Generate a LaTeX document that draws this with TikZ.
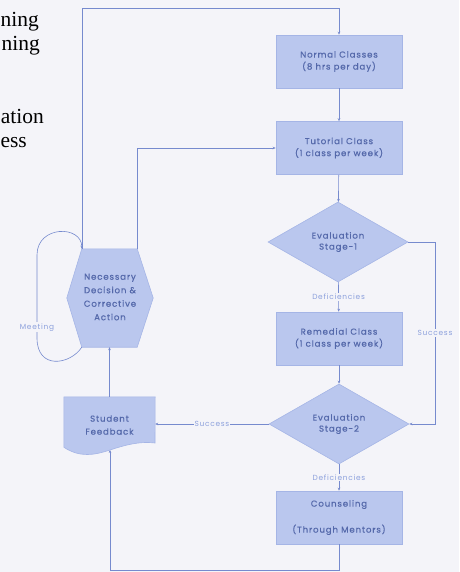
\documentclass[tikz,border=0pt]{standalone}
\usepackage{fontspec}
\setmainfont{Liberation Serif}
\newfontfamily\diagfont[LetterSpace=10, FakeBold=0.6]{Poppins}
\newfontfamily\lblfont[LetterSpace=10]{Poppins}
\usetikzlibrary{shapes.geometric,arrows.meta}
\definecolor{bgc}{RGB}{244,244,249}
\definecolor{fillc}{RGB}{186,199,238}
\definecolor{edgec}{RGB}{165,181,230}
\definecolor{txtc}{RGB}{84,104,170}
\definecolor{linec}{RGB}{118,138,206}
\definecolor{lblc}{RGB}{140,160,220}
\tikzset{
  procbox/.style={rectangle, fill=fillc, draw=edgec, line width=0.6pt,
    minimum width=126pt, minimum height=53pt, align=center, text=txtc,
    font=\diagfont\fontsize{8.6}{12}\selectfont, inner sep=1pt},
  decbox/.style={diamond, fill=fillc, draw=edgec, line width=0.6pt,
    minimum width=140pt, minimum height=80pt, align=center, text=txtc,
    font=\diagfont\fontsize{8.6}{11}\selectfont, inner sep=0pt},
  plainbox/.style={rectangle, draw=none, align=center, text=txtc,
    font=\diagfont\fontsize{8.6}{13.5}\selectfont, inner sep=0pt},
  conn/.style={draw=linec, line width=0.6pt},
  arr/.style={conn, -{Stealth[length=3pt,width=2.6pt]}},
  lbl/.style={fill=bgc, text=lblc, font=\lblfont\fontsize{7.4}{9}\selectfont, inner sep=1pt},
  bigtxt/.style={anchor=base east, text=black, font=\fontsize{21.5}{24}\selectfont, inner sep=0pt}
}
\begin{document}
\begin{tikzpicture}[x=1pt,y=-1pt]
\path[use as bounding box] (0,0) rectangle (459,572);
\clip (0,0) rectangle (459,572);
\fill[bgc] (0,0) rectangle (459,572);

% fragments of running text at top left
\node[bigtxt] (t1) at (39,27) {ning};
\node[bigtxt] (t2) at (40,51) {ning};
\node[bigtxt] (t3) at (44,124) {ation};
\node[bigtxt] (t4) at (27,148) {ess};

% main column
\node[procbox] (normal) at (339,61.5) {Normal Classes\\(8 hrs per day)};
\node[procbox] (tutorial) at (339,148) {Tutorial Class\\(1 class per week)};
\node[decbox] (eval1) at (338,242) {Evaluation\\Stage-1};
\node[procbox] (remedial) at (339,338.5) {Remedial Class\\(1 class per week)};
\node[decbox] (eval2) at (339,424) {Evaluation\\Stage-2};
\node[procbox] (counsel) at (339,517.5) {Counseling\\[14pt](Through Mentors)};

% hexagon (decision & action)
\node[plainbox, minimum width=86pt, minimum height=98pt] (hex) at (110,298) {};
\coordinate (hexTL) at ([xshift=15pt]hex.north west);
\coordinate (hexTR) at ([xshift=-16pt]hex.north east);
\coordinate (hexBL) at ([xshift=15pt]hex.south west);
\coordinate (hexBR) at ([xshift=-16pt]hex.south east);
\path[fill=fillc, draw=edgec, line width=0.6pt] (hex.west) -- (hexTL) -- (hexTR) -- (hex.east) -- (hexBR) -- (hexBL) -- cycle;
\node[plainbox] (hextext) at ([yshift=1pt]hex.center) {Necessary\\Decision \&\\Corrective\\Action};

% student feedback (document shape)
\node[plainbox, minimum width=91pt, minimum height=50pt] (fb) at (109.5,422) {};
\path[fill=fillc, draw=edgec, line width=0.6pt]
  (fb.north west) -- (fb.north east) -- (155,443)
  .. controls (140,441) and (125,445) .. (110,450)
  .. controls (95,455) and (80,458) .. (fb.south west) -- cycle;
\node[plainbox, font=\diagfont\fontsize{8.6}{13}\selectfont] (fbtext) at ([yshift=-3pt]fb.center) {Student\\Feedback};
\coordinate (fbS) at (110,450);

% helper coordinates
\coordinate (rx) at (435,0);
\coordinate (topy) at (0,8);
\coordinate (boty) at (0,570);

% connectors
\draw[arr] (normal) -- (tutorial);
\draw[arr] (tutorial) -- (eval1);
\draw[arr] (eval1) -- node[lbl] {Deficiencies} (remedial);
\draw[arr] (remedial) -- (eval2);
\draw[arr] (eval2) -- node[lbl] {Deficiencies} (counsel);
\draw[arr] (eval1.east) -- (eval1.east -| rx) -- node[lbl] {Success} (eval2.east -| rx) -- (eval2.east);
\draw[arr] (eval2.west) -- node[lbl] {Success} (eval2.west -| fb.east);
\draw[arr] (counsel.south) -- (counsel.south |- boty) -- (fbS |- boty) -- (fbS);
\draw[arr] (fb.north) -- (fb.north |- hexBL);
\draw[arr] (hexTL) -- (hexTL |- topy) -- (normal.north |- topy) -- (normal.north);
\draw[arr] (hexTR) -- (hexTR |- tutorial.west) -- (tutorial.west);
\draw[arr] (hexBL) .. controls (70,365) and (37,370) .. (37,338)
  -- node[lbl, pos=0.13] {Meeting} (37,255) .. controls (37,225) and (82,225) .. (hexTL);
\end{tikzpicture}
\end{document}
